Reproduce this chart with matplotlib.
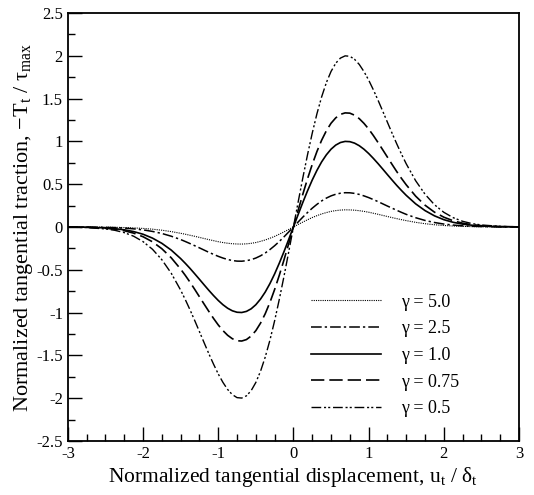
import matplotlib
matplotlib.use("Agg")
import matplotlib.pyplot as plt
from matplotlib.ticker import MultipleLocator

plt.rcParams['font.family'] = ['Liberation Serif', 'DejaVu Serif']
plt.rcParams['mathtext.fontset'] = 'custom'
plt.rcParams['mathtext.rm'] = 'Liberation Serif'
plt.rcParams['mathtext.it'] = 'Liberation Serif:italic'

# normalized tangential displacement u_t / delta_t
u = [-3.0, -2.75, -2.5, -2.375, -2.25, -2.125, -2.0, -1.875, -1.75, -1.625,
     -1.5, -1.4375, -1.375, -1.3125, -1.25, -1.1875, -1.125, -1.0625, -1.0, -0.9375,
     -0.875, -0.8125, -0.75, -0.6875, -0.625, -0.5625, -0.5, -0.4375, -0.375, -0.3125,
     -0.25, -0.1875, -0.125, -0.0625,
     0.0,
     0.0625, 0.125, 0.1875, 0.25, 0.3125, 0.375, 0.4375, 0.5, 0.5625, 0.625,
     0.6875, 0.75, 0.8125, 0.875, 0.9375, 1.0, 1.0625, 1.125, 1.1875, 1.25,
     1.3125, 1.375, 1.4375, 1.5, 1.625, 1.75, 1.875, 2.0, 2.125, 2.25,
     2.375, 2.5, 2.75, 3.0]

# -T_t / tau_max
t_g50 = [-0.000, -0.001, -0.002, -0.004, -0.007, -0.011, -0.017, -0.026, -0.038, -0.054,
         -0.074, -0.085, -0.097, -0.109, -0.122, -0.135, -0.148, -0.160, -0.172, -0.182,
         -0.190, -0.196, -0.199, -0.200, -0.197, -0.191, -0.182, -0.168, -0.152, -0.132,
         -0.110, -0.084, -0.057, -0.029,
         0.0,
         0.029, 0.057, 0.084, 0.110, 0.132, 0.152, 0.168, 0.182, 0.191, 0.197,
         0.200, 0.199, 0.196, 0.190, 0.182, 0.172, 0.160, 0.148, 0.135, 0.122,
         0.109, 0.097, 0.085, 0.074, 0.054, 0.038, 0.026, 0.017, 0.011, 0.007,
         0.004, 0.002, 0.001, 0.000]
t_g25 = [-0.000, -0.001, -0.005, -0.008, -0.013, -0.022, -0.034, -0.052, -0.076, -0.108,
         -0.147, -0.170, -0.194, -0.219, -0.244, -0.270, -0.296, -0.320, -0.343, -0.363,
         -0.380, -0.392, -0.399, -0.400, -0.394, -0.382, -0.363, -0.337, -0.304, -0.264,
         -0.219, -0.169, -0.115, -0.058,
         0.0,
         0.058, 0.115, 0.169, 0.219, 0.264, 0.304, 0.337, 0.363, 0.382, 0.394,
         0.400, 0.399, 0.392, 0.380, 0.363, 0.343, 0.320, 0.296, 0.270, 0.244,
         0.219, 0.194, 0.170, 0.147, 0.108, 0.076, 0.052, 0.034, 0.022, 0.013,
         0.008, 0.005, 0.001, 0.000]
t_g10 = [-0.001, -0.003, -0.011, -0.020, -0.033, -0.054, -0.085, -0.130, -0.191, -0.270,
         -0.369, -0.425, -0.484, -0.547, -0.611, -0.676, -0.740, -0.801, -0.858, -0.908,
         -0.949, -0.979, -0.996, -0.999, -0.986, -0.956, -0.908, -0.842, -0.760, -0.661,
         -0.548, -0.422, -0.287, -0.145,
         0.0,
         0.145, 0.287, 0.422, 0.548, 0.661, 0.760, 0.842, 0.908, 0.956, 0.986,
         0.999, 0.996, 0.979, 0.949, 0.908, 0.858, 0.801, 0.740, 0.676, 0.611,
         0.547, 0.484, 0.425, 0.369, 0.270, 0.191, 0.130, 0.085, 0.054, 0.033,
         0.020, 0.011, 0.003, 0.001]
t_g075 = [-0.001, -0.004, -0.015, -0.026, -0.044, -0.072, -0.114, -0.173, -0.254, -0.360,
          -0.492, -0.566, -0.645, -0.729, -0.815, -0.901, -0.986, -1.068, -1.144, -1.210,
          -1.265, -1.305, -1.329, -1.332, -1.315, -1.274, -1.211, -1.123, -1.013, -0.881,
          -0.730, -0.563, -0.383, -0.194,
          0.0,
          0.194, 0.383, 0.563, 0.730, 0.881, 1.013, 1.123, 1.211, 1.274, 1.315,
          1.332, 1.329, 1.305, 1.265, 1.210, 1.144, 1.068, 0.986, 0.901, 0.815,
          0.729, 0.645, 0.566, 0.492, 0.360, 0.254, 0.173, 0.114, 0.072, 0.044,
          0.026, 0.015, 0.004, 0.001]
t_g05 = [-0.002, -0.007, -0.023, -0.039, -0.066, -0.108, -0.171, -0.260, -0.382, -0.540,
         -0.737, -0.849, -0.968, -1.093, -1.222, -1.352, -1.480, -1.602, -1.716, -1.815,
         -1.898, -1.958, -1.993, -1.998, -1.972, -1.912, -1.816, -1.685, -1.519, -1.322,
         -1.095, -0.844, -0.574, -0.290,
         0.0,
         0.290, 0.574, 0.844, 1.095, 1.322, 1.519, 1.685, 1.816, 1.912, 1.972,
         1.998, 1.993, 1.958, 1.898, 1.815, 1.716, 1.602, 1.480, 1.352, 1.222,
         1.093, 0.968, 0.849, 0.737, 0.540, 0.382, 0.260, 0.171, 0.108, 0.066,
         0.039, 0.023, 0.007, 0.002]

labels = ['γ = 5.0', 'γ = 2.5', 'γ = 1.0', 'γ = 0.75', 'γ = 0.5']

fig = plt.figure(figsize=(5.34, 4.95), dpi=100)
ax = fig.add_axes([0.127, 0.109, 0.845, 0.865])

ax.plot(u, t_g50, color='black', lw=0.8, ls=(0, (1, 1)), label=labels[0])
ax.plot(u, t_g25, color='black', lw=1.1, ls=(0, (7, 2, 1.5, 2)), label=labels[1])
ax.plot(u, t_g10, color='black', lw=1.2, ls='-', label=labels[2])
ax.plot(u, t_g075, color='black', lw=1.2, ls=(0, (8, 3)), label=labels[3])
ax.plot(u, t_g05, color='black', lw=1.0, ls=(0, (7, 2, 1.5, 1.5, 1.5, 2)), label=labels[4])

ax.set_xlim(-3, 3)
ax.set_ylim(-2.5, 2.5)
ax.xaxis.set_major_locator(MultipleLocator(1))
ax.xaxis.set_minor_locator(MultipleLocator(0.25))
ax.yaxis.set_major_locator(MultipleLocator(0.5))
ax.yaxis.set_minor_locator(MultipleLocator(0.25))
ax.xaxis.set_major_formatter(plt.FuncFormatter(lambda v, p: f"{v:g}"))
ax.yaxis.set_major_formatter(plt.FuncFormatter(lambda v, p: f"{v:g}"))
ax.tick_params(which='both', direction='in', top=False, right=False, labelsize=12, width=1)
ax.tick_params(which='major', length=10)
ax.tick_params(which='minor', length=5)
for s in ax.spines.values():
    s.set_linewidth(1.3)

ax.set_xlabel(r'Normalized tangential displacement, u$_\mathrm{t}$ / δ$_\mathrm{t}$',
              fontsize=15.5, labelpad=2)
ax.set_ylabel(r'Normalized tangential traction, $-$T$_\mathrm{t}$ / τ$_\mathrm{max}$',
              fontsize=16, labelpad=1)

ax.legend(loc='lower left', bbox_to_anchor=(0.502, 0.018), frameon=False, fontsize=13,
          handlelength=3.9, handletextpad=1.1, labelspacing=0.53)

fig.savefig('out.png', dpi=100)
